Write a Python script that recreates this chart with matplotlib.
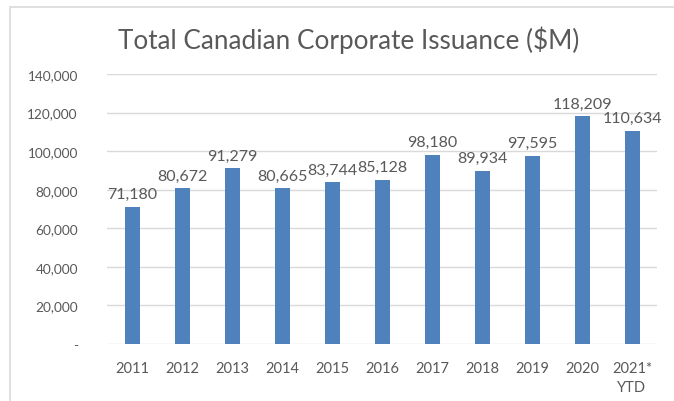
import matplotlib.pyplot as plt
from matplotlib.patches import Rectangle

years = ['2011', '2012', '2013', '2014', '2015', '2016', '2017', '2018', '2019', '2020', '2021*\nYTD']
issuance = [71180, 80672, 91279, 80665, 83744, 85128, 98180, 89934, 97595, 118209, 110634]
yticks = [0, 20000, 40000, 60000, 80000, 100000, 120000, 140000]
ytick_labels = ['-', '20,000', '40,000', '60,000', '80,000', '100,000', '120,000', '140,000']

plt.rcParams['font.family'] = ['Lato', 'DejaVu Sans']
grey = '#595959'

fig = plt.figure(figsize=(6.74, 4.02), dpi=100)
# faint frame of the chart area
fig.patches.append(Rectangle((10 / 674, -0.1), 1.2, 1 - 8 / 402 + 0.1, transform=fig.transFigure,
                             fill=False, edgecolor='#d9d9d9', linewidth=1.2))

ax = fig.add_axes([107 / 674, 1 - 345 / 402, 550 / 674, 270 / 402])
x = range(len(years))
ax.bar(x, issuance, width=0.3, color='#4f81bd', zorder=3)
for i, v in zip(x, issuance):
    ax.annotate(f'{v:,}', (i, v), xytext=(0, 4), textcoords='offset points',
                ha='center', va='bottom', fontsize=11.5, color=grey)

ax.set_xlim(-0.5, len(years) - 0.5)
ax.set_ylim(0, 140000)
ax.set_yticks(yticks)
ax.set_yticklabels(ytick_labels)
ax.set_xticks(list(x))
ax.set_xticklabels(years, linespacing=1.5)
ax.tick_params(axis='both', length=0, colors=grey, labelsize=10.5)
ax.tick_params(axis='y', labelsize=9.8)
ax.tick_params(axis='x', pad=12)
ax.tick_params(axis='y', pad=21)
for lbl in ax.get_yticklabels():
    lbl.set_horizontalalignment('right')
ax.grid(axis='y', color='#d9d9d9', linewidth=1, zorder=0)
for s in ax.spines.values():
    s.set_visible(False)

fig.text(349 / 674, 1 - 40 / 402, 'Total Canadian Corporate Issuance ($M)', ha='center', va='center',
         fontsize=18.8, color=grey)

fig.savefig('out.png', dpi=100)
